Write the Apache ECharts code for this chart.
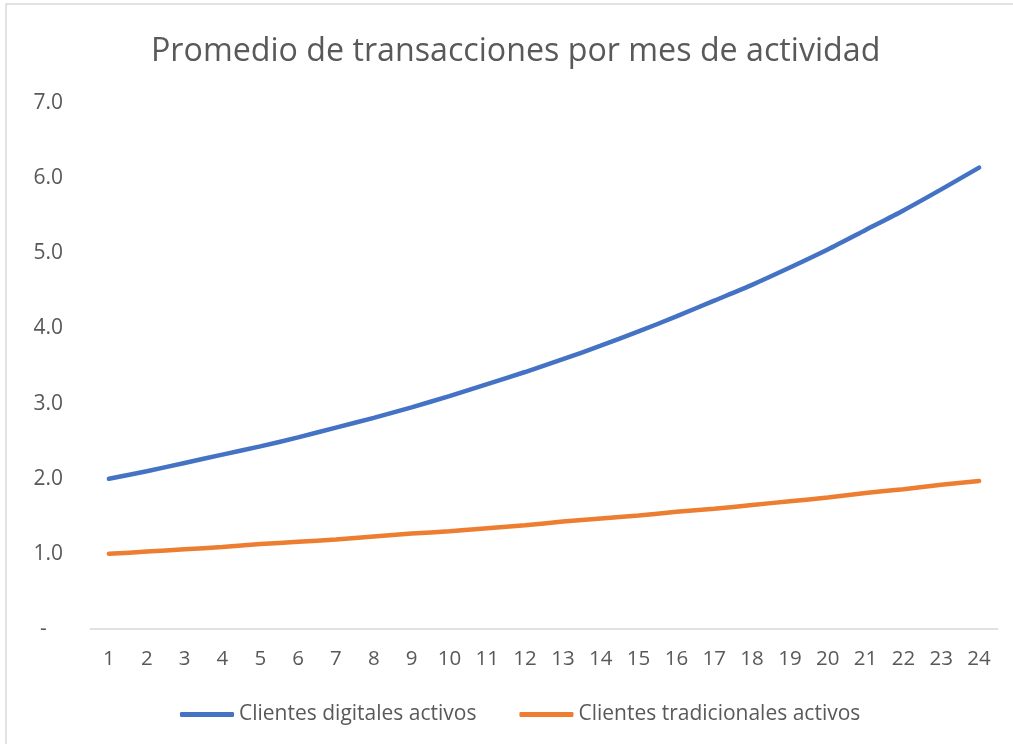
<!DOCTYPE html>
<html>
<head>
<meta charset="utf-8">
<script src="https://cdn.jsdelivr.net/npm/echarts@6/dist/echarts.min.js"></script>
<style>
  html, body { margin: 0; padding: 0; background: #fff; }
  #chart { width: 1013px; height: 744px; }
</style>
</head>
<body>
<div id="chart"></div>
<script>
// months of activity
var meses = ['1', '2', '3', '4', '5', '6', '7', '8', '9', '10', '11', '12',
  '13', '14', '15', '16', '17', '18', '19', '20', '21', '22', '23', '24'];

// average transactions
var digitales = [2.00, 2.10, 2.21, 2.32, 2.43, 2.55, 2.68, 2.81, 2.95, 3.10, 3.26, 3.42,
  3.59, 3.77, 3.96, 4.16, 4.37, 4.58, 4.81, 5.05, 5.31, 5.57, 5.85, 6.14];
var tradicionales = [1.00, 1.03, 1.06, 1.09, 1.13, 1.16, 1.19, 1.23, 1.27, 1.30, 1.34, 1.38,
  1.43, 1.47, 1.51, 1.56, 1.60, 1.65, 1.70, 1.75, 1.81, 1.86, 1.92, 1.97];

var font = 'Open Sans';
var textColor = '#595959';

var chart = echarts.init(document.getElementById('chart'));
chart.setOption({
  animation: false,
  title: {
    text: 'Promedio de transacciones por mes de actividad',
    left: 146,
    top: 31,
    textStyle: { fontFamily: font, fontSize: 32.2, fontWeight: 'normal', color: textColor },
  },
  graphic: [{
    type: 'rect',
    shape: { x: 6, y: 4, width: 1020, height: 760 },
    style: { fill: 'none', stroke: '#d9d9d9', lineWidth: 1.5 },
    silent: true,
  }],
  legend: {
    bottom: 14,
    left: 175,
    itemWidth: 54,
    itemHeight: 5,
    itemGap: 43,
    icon: 'roundRect',
    textStyle: { fontFamily: font, fontSize: 21, color: textColor },
    data: ['Clientes digitales activos', 'Clientes tradicionales activos'],
  },
  grid: { left: 90, right: 15, top: 103, bottom: 115 },
  xAxis: {
    type: 'category',
    data: meses,
    boundaryGap: true,
    axisLine: { lineStyle: { color: '#d9d9d9', width: 1.5 } },
    axisTick: { show: false },
    axisLabel: { fontFamily: font, fontSize: 20.5, color: textColor, margin: 20 },
  },
  yAxis: {
    type: 'value',
    min: 0,
    max: 7,
    interval: 1,
    axisLine: { show: false },
    axisTick: { show: false },
    splitLine: { show: false },
    axisLabel: {
      fontFamily: font, fontSize: 21, color: textColor, margin: 27,
      formatter: function (v) { return v === 0 ? '-   ' : v.toFixed(1); },
    },
  },
  series: [
    {
      name: 'Clientes digitales activos',
      type: 'line',
      data: digitales,
      smooth: 0.25,
      showSymbol: false,
      color: '#4472C4',
      lineStyle: { width: 4.5, cap: 'round' },
    },
    {
      name: 'Clientes tradicionales activos',
      type: 'line',
      data: tradicionales,
      smooth: 0.25,
      showSymbol: false,
      color: '#ED7D31',
      lineStyle: { width: 4.5, cap: 'round' },
    },
  ],
});
window.addEventListener('resize', function () { chart.resize(); });
</script>
</body>
</html>
